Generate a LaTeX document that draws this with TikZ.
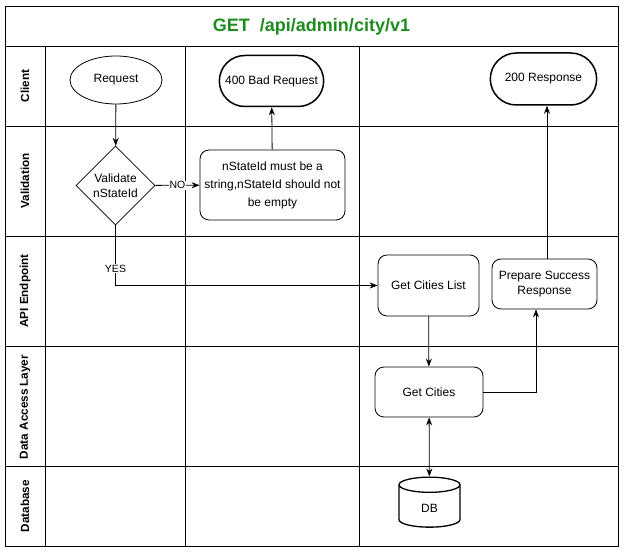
\documentclass[tikz,border=0pt]{standalone}
\usepackage{fontspec}
\setmainfont{Liberation Sans}
\usetikzlibrary{arrows.meta,shapes.geometric,shapes.misc}
\definecolor{titlegreen}{RGB}{30,140,30}
\begin{document}
\begin{tikzpicture}[x=1pt,y=-1pt,
			lane/.style={rotate=90,font=\bfseries\fontsize{11.7}{13}\selectfont},
			box/.style={draw,line width=0.8pt,rounded corners=9pt,align=center,font=\fontsize{12}{18}\selectfont},
			term/.style={draw,line width=1.5pt,rounded rectangle,font=\fontsize{12}{13}\selectfont},
			tag/.style={fill=white,inner sep=1pt,font=\fontsize{10.5}{12}\selectfont},
			flow/.style={line width=0.8pt,-{Stealth[length=8pt,width=6pt]}}]
			\useasboundingbox (0,0) rectangle (625,553);
			\draw [line width=0.9pt] (5,6) rectangle (618,546);
			\foreach \y in {46,126,236,346,466} \draw [line width=0.9pt] (5,\y) -- (618,\y);
			\foreach \x in {45,185,359} \draw [line width=0.9pt] (\x,46) -- (\x,546);
			\node [font=\bfseries\fontsize{18}{20}\selectfont,text=titlegreen] (title) at (311.5,27) {GET\ \ /api/admin/city/v1};
			\node [lane] (client) at (25,86) {Client};
			\node [lane] (validation) at (25,181) {Validation};
			\node [lane] (api) at (25,291) {API Endpoint};
			\node [lane] (dal) at (25,407) {Data Access Layer};
			\node [lane] (database) at (25,506) {Database};
			\node [draw,line width=0.8pt,ellipse,minimum width=92pt,minimum height=48pt,font=\fontsize{12}{13}\selectfont] (req) at (116,80) {Request};
			\node [term,minimum width=111pt,minimum height=51pt] (bad) at (271.5,81) {400 Bad Request};
			\node [term,minimum width=113pt,minimum height=52pt] (ok) at (543.5,79) {200 Response};
			\node [draw,line width=0.8pt,diamond,minimum width=79pt,minimum height=79pt,inner sep=0pt,align=center,font=\fontsize{12}{15}\selectfont] (check) at (115.5,185.5) {Validate\\nStateId};
			\node [box,minimum width=145pt,minimum height=70pt] (err) at (272.5,185) {nStateId must be a\\string,nStateId should not\\be empty};
			\node [box,minimum width=101pt,minimum height=61pt] (list) at (428.5,285.5) {Get Cities List};
			\node [box,minimum width=105pt,minimum height=50pt,font=\fontsize{12}{15}\selectfont] (prep) at (544.5,284) {Prepare Success\\Response};
			\node [box,minimum width=108pt,minimum height=50pt] (cities) at (429,392) {Get Cities};
			\node [draw,cylinder,shape border rotate=90,aspect=0.65,line width=1.3pt,minimum width=61pt,minimum height=50pt,font=\fontsize{12}{13}\selectfont] (db) at (429.5,508) {DB};
			\draw [flow] (req) -- (check);
			\draw [flow] (check) -- node[tag] {NO} (err);
			\draw [flow] (err) -- (bad);
			\draw [flow] (check.south) |- node[tag,pos=0.36] {YES} (list.west);
			\draw [flow] (list) -- (cities);
			\draw [flow] (cities.east) -| ([xshift=-8.5pt]prep.south);
			\draw [flow] ([xshift=2.5pt]prep.north) -- ([xshift=2.5pt]prep.north |- ok.south);
			\draw [line width=0.8pt,{Stealth[length=8pt,width=6pt]}-{Stealth[length=8pt,width=6pt]}] (cities) -- (db);
		\end{tikzpicture}
\end{document}
